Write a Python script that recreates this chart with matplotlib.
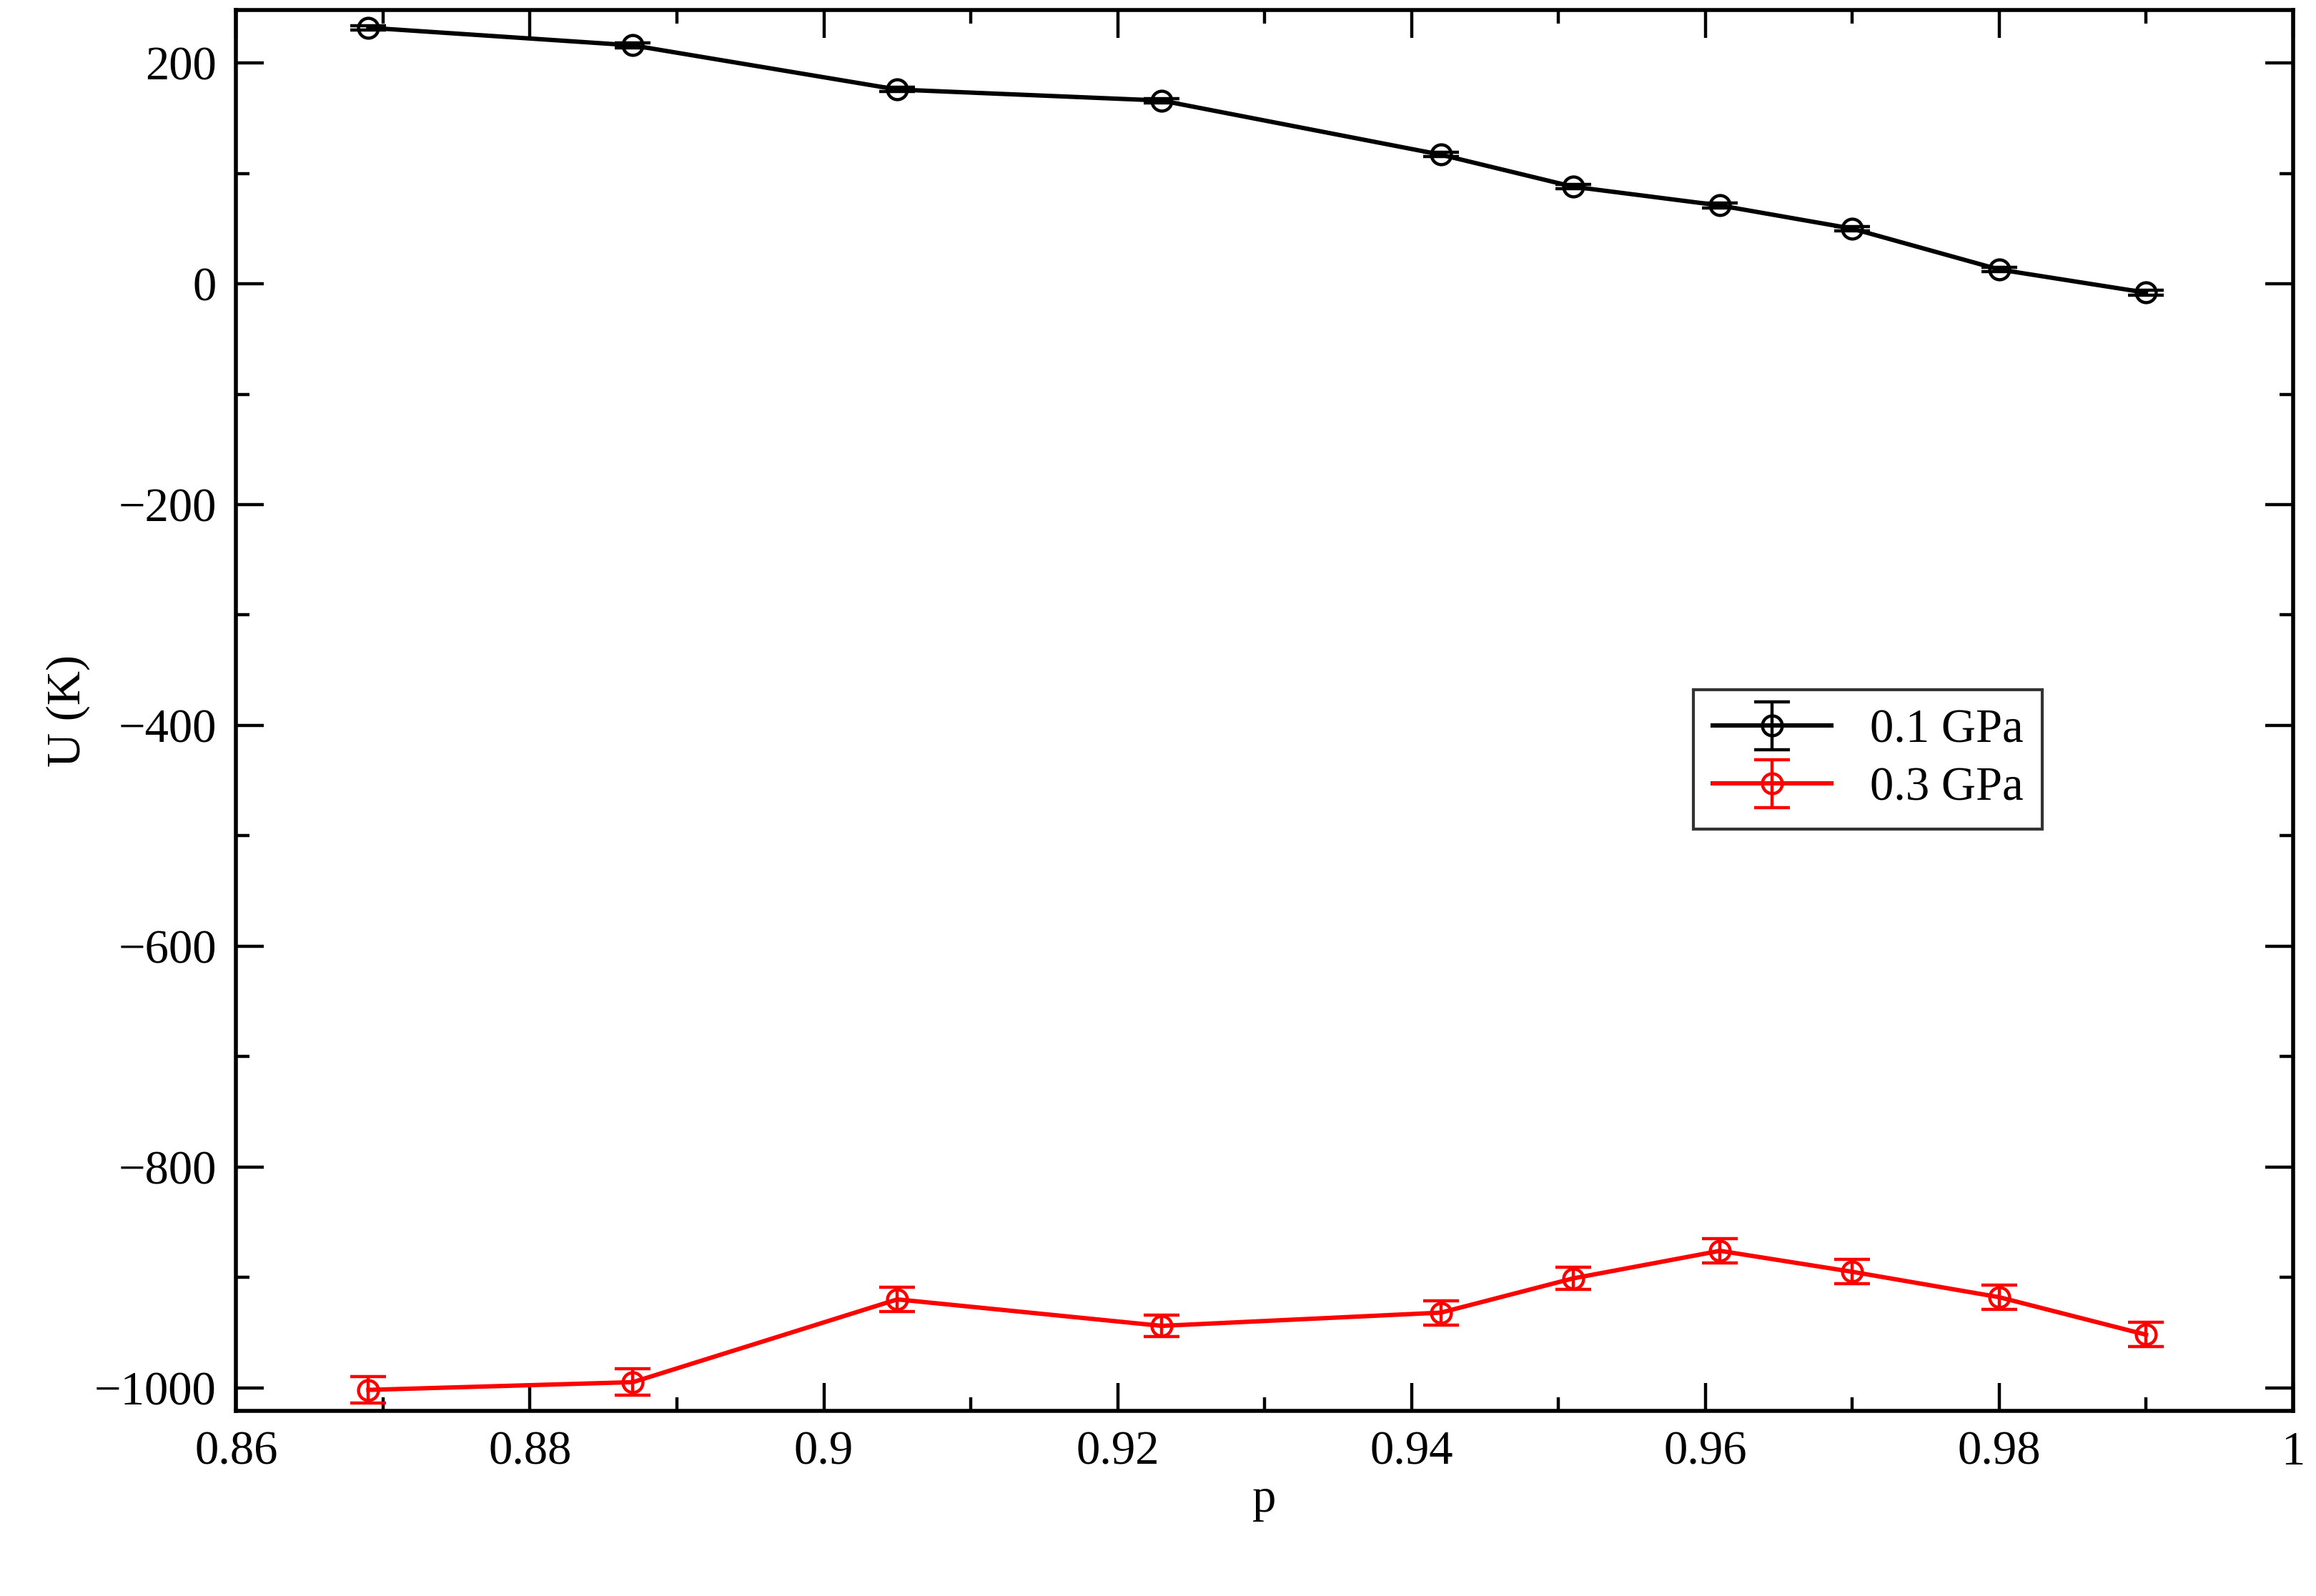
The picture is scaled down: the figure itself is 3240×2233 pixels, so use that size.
import numpy as np
import matplotlib.pyplot as plt
from matplotlib.ticker import MultipleLocator

plt.rcParams['font.family'] = ['Liberation Serif', 'DejaVu Serif']

p = [0.869, 0.887, 0.905, 0.923, 0.942, 0.951, 0.961, 0.970, 0.980, 0.990]
u_01 = [232, 216, 176, 166, 117, 88, 71, 50, 13, -8]
err_01 = [2, 2, 2, 2, 2, 2, 2, 2, 2, 2]
u_03 = [-1002, -995, -920, -944, -932, -901, -876, -895, -918, -952]
err_03 = [12, 12, 11, 10, 11, 10, 11, 11, 11, 11]

fig = plt.figure(figsize=(16.2, 11.165), dpi=200)
ax = fig.add_axes([0.102, 0.558 - 0.558 + 0.116, 0.888, 0.8777])

for y, e, c, lab in [(u_01, err_01, 'black', '0.1 GPa'), (u_03, err_03, 'red', '0.3 GPa')]:
    ax.errorbar(p, y, yerr=e, color=c, lw=2.2, marker='o', ms=10, mfc='none',
                mec=c, mew=1.6, capsize=9, capthick=1.6, elinewidth=1.6, label=lab)

ax.set_xlim(0.86, 1.0)
ax.set_ylim(-1021, 248)
ax.set_xticks(np.arange(0.86, 1.001, 0.02))
ax.set_xticklabels(['0.86', '0.88', '0.9', '0.92', '0.94', '0.96', '0.98', '1'])
ax.xaxis.set_minor_locator(MultipleLocator(0.01))
ax.yaxis.set_major_locator(MultipleLocator(200))
ax.yaxis.set_minor_locator(MultipleLocator(100))
ax.tick_params(which='both', direction='in', top=True, right=True, labelsize=24, width=1.6)
ax.tick_params(which='major', length=14, pad=10)
ax.tick_params(which='minor', length=7)
for s in ax.spines.values():
    s.set_linewidth(2)
ax.set_xlabel('p', fontsize=24, labelpad=2)
ax.set_ylabel('U (K)', fontsize=24, labelpad=2)

leg = ax.legend(loc='center left', bbox_to_anchor=(0.697, 0.465), fontsize=24,
                frameon=True, fancybox=False, edgecolor='black', handlelength=2.5,
                borderpad=0.4, labelspacing=0.3)
leg.get_frame().set_linewidth(1.5)

fig.savefig('out.png', dpi=200)
